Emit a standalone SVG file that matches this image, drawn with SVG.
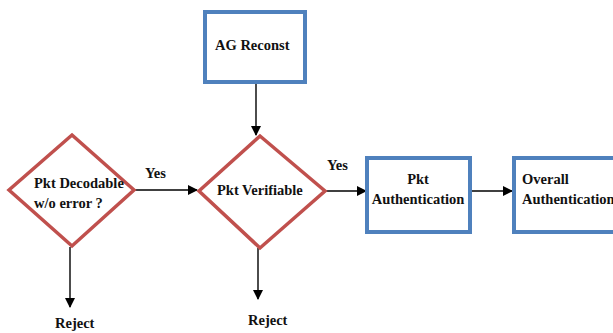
<svg xmlns="http://www.w3.org/2000/svg" width="613" height="333" viewBox="0 0 613 333">
<defs>
<marker id="ah" markerWidth="10" markerHeight="10" refX="9" refY="5" orient="auto" markerUnits="userSpaceOnUse">
<path d="M0,0 L10,5 L0,10 z" fill="#000"/>
</marker>
<style>
.dia{fill:#fff;stroke:#C0504D;stroke-width:3.5}
.box{fill:#fff;stroke:#4F81BD;stroke-width:4}
.t{font-family:'Liberation Serif','DejaVu Serif',serif;font-weight:bold;font-size:14.5px;fill:#111}
.c{stroke:#000;stroke-width:1.4;fill:none;marker-end:url(#ah)}
</style>
</defs>
<rect width="613" height="333" fill="#fff"/>
<g id="connectors">
<path class="c" d="M256,83 V135"/>
<path class="c" d="M133,190 H197"/>
<path class="c" d="M325,191 H366"/>
<path class="c" d="M470,191 H512"/>
<path class="c" d="M70,247 V307"/>
<path class="c" d="M258,248 V299"/>
</g>
<g id="ag-reconst">
<rect class="box" x="205" y="12" width="100" height="70"/>
<text class="t" x="215" y="50">AG Reconst</text>
</g>
<g id="pkt-decodable">
<polygon class="dia" points="72,135 134,190 72,246 9,190"/>
<text class="t" x="34" y="188">Pkt Decodable</text>
<text class="t" x="34" y="208">w/o error ?</text>
</g>
<g id="pkt-verifiable">
<polygon class="dia" points="260,136 325,191 260,248 199,191"/>
<text class="t" x="217" y="195">Pkt Verifiable</text>
</g>
<g id="pkt-authentication">
<rect class="box" x="367" y="158" width="103" height="74"/>
<text class="t" x="418" y="184" text-anchor="middle">Pkt</text>
<text class="t" x="418" y="204" text-anchor="middle">Authentication</text>
</g>
<g id="overall-authentication">
<rect class="box" x="514" y="158" width="110" height="74"/>
<text class="t" x="522" y="184">Overall</text>
<text class="t" x="522" y="204">Authentication</text>
</g>
<g id="labels">
<text class="t" x="145" y="178">Yes</text>
<text class="t" x="327" y="170">Yes</text>
<text class="t" x="55" y="328">Reject</text>
<text class="t" x="248" y="325">Reject</text>
</g>
</svg>
